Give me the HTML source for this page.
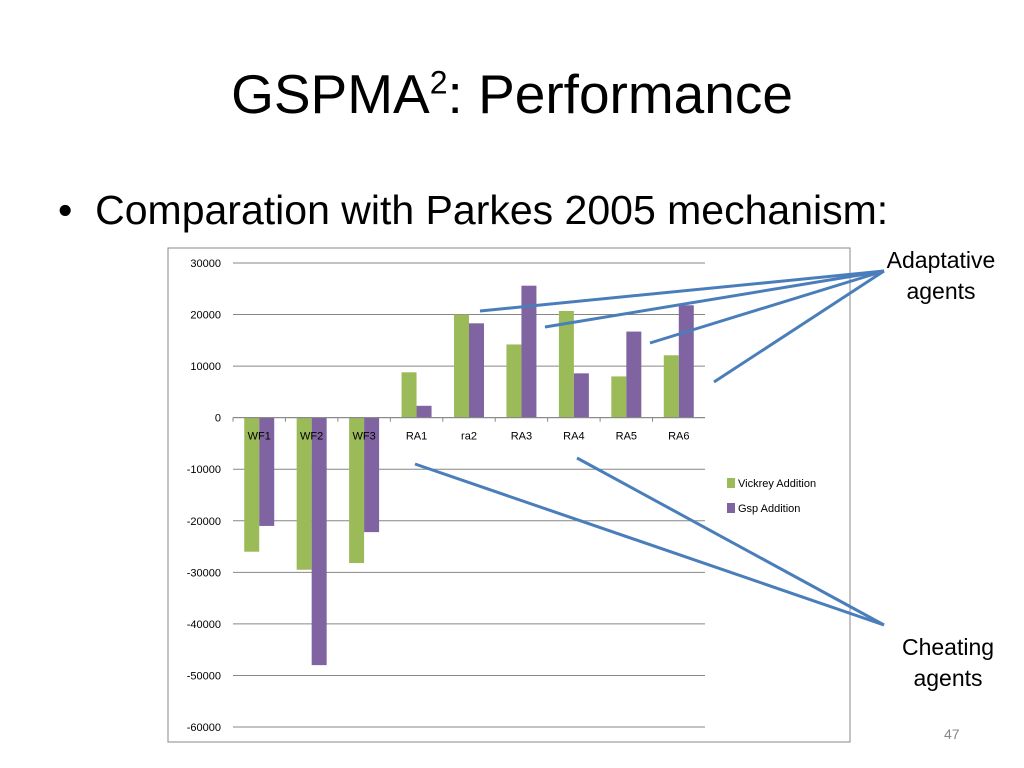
<!DOCTYPE html>
<html><head><meta charset="utf-8"><style>
body{margin:0;width:1024px;height:768px;background:#fff;position:relative;overflow:hidden;font-family:"Liberation Sans",sans-serif}
.t{position:absolute;white-space:nowrap}
</style></head><body>
<div class="t" style="left:0;width:1024px;text-align:center;top:62px;font-size:55px;color:#000;font-family:'Liberation Sans',sans-serif">GSPMA<sup style="font-size:32px">2</sup>: Performance</div>
<div class="t" style="left:58px;top:187px;font-size:41px">•&nbsp;&nbsp;Comparation with Parkes 2005 mechanism:</div>
<div class="t" style="left:880px;width:122px;text-align:center;top:245px;font-size:23px;line-height:31px">Adaptative<br>agents</div>
<div class="t" style="left:887px;width:122px;text-align:center;top:632px;font-size:23px;line-height:31px">Cheating<br>agents</div>
<div class="t" style="left:944px;top:726px;font-size:14px;color:#888">47</div>
<svg id="c" width="1024" height="768" style="position:absolute;left:0;top:0"></svg>
<script>
const categories=["WF1","WF2","WF3","RA1","ra2","RA3","RA4","RA5","RA6"];
const vickrey=[-26000,-29500,-28200,8800,20000,14200,20700,8000,12100];
const gsp=[-21000,-48000,-22200,2300,18300,25600,8600,16700,21800];
const ticks=[30000,20000,10000,0,-10000,-20000,-30000,-40000,-50000,-60000];
const svg=document.getElementById('c');const NS='http://www.w3.org/2000/svg';
function mk(t,a,p){const e=document.createElementNS(NS,t);for(const k in a)e.setAttribute(k,a[k]);(p||svg).appendChild(e);return e;}
const x0=233,x1=705,yTop=263,yBot=727,vMax=30000,vMin=-60000;
const y=v=>yTop+(vMax-v)/(vMax-vMin)*(yBot-yTop);
const bw=(x1-x0)/categories.length;
let f=mk('rect',{x:168,y:248,width:682,height:494,fill:'#fff',stroke:'#888'});


ticks.forEach(t=>{
 let l=mk('line',{x1:x0,x2:x1,y1:y(t),y2:y(t),stroke:'#868686'});
 
 
 let tx=mk('text',{x:x0-12,y:y(t)+4,'text-anchor':'end','font-size':11,fill:'#000','font-family':'Liberation Sans, sans-serif'});
 tx.textContent=t;
 
 
});
categories.forEach((c,i)=>{
 const cx=x0+bw*(i+0.5);
 const gv=vickrey[i],pv=gsp[i];
 let b1=mk('rect',{x:cx-15,y:Math.min(y(0),y(gv)),width:15,height:Math.abs(y(gv)-y(0)),fill:'#9bbb59'});
 
 
 let b2=mk('rect',{x:cx,y:Math.min(y(0),y(pv)),width:15,height:Math.abs(y(pv)-y(0)),fill:'#8064a2'});
 
 
 let tk=mk('line',{x1:x0+bw*i,x2:x0+bw*i,y1:y(0),y2:y(0)+4,stroke:'#868686'});
 
 
 let tx=mk('text',{x:cx,y:y(0)+22,'text-anchor':'middle','font-size':11,fill:'#000','font-family':'Liberation Sans, sans-serif'});
 tx.textContent=c;
 
 
});
let ax=mk('line',{x1:x0,x2:x1,y1:y(0),y2:y(0),stroke:'#868686'});


[['Vickrey Addition','#9bbb59',483],['Gsp Addition','#8064a2',508]].forEach(([n,col,yy])=>{
 let r=mk('rect',{x:727,y:yy-5,width:8,height:10,fill:col});
 
 
 let t=mk('text',{x:738,y:yy+4,'font-size':11,fill:'#000','font-family':'Liberation Sans, sans-serif'});
 t.textContent=n;
 
 
});
[[884,271,480,311],[884,271,545,327],[884,271,650,343],[884,271,714,382],[884,625,415,464],[884,625,577,458]].forEach(a=>{
 let l=mk('line',{x1:a[0],y1:a[1],x2:a[2],y2:a[3],stroke:'#4a7ebb','stroke-width':3});
 
 
});
</script>
</body></html>
